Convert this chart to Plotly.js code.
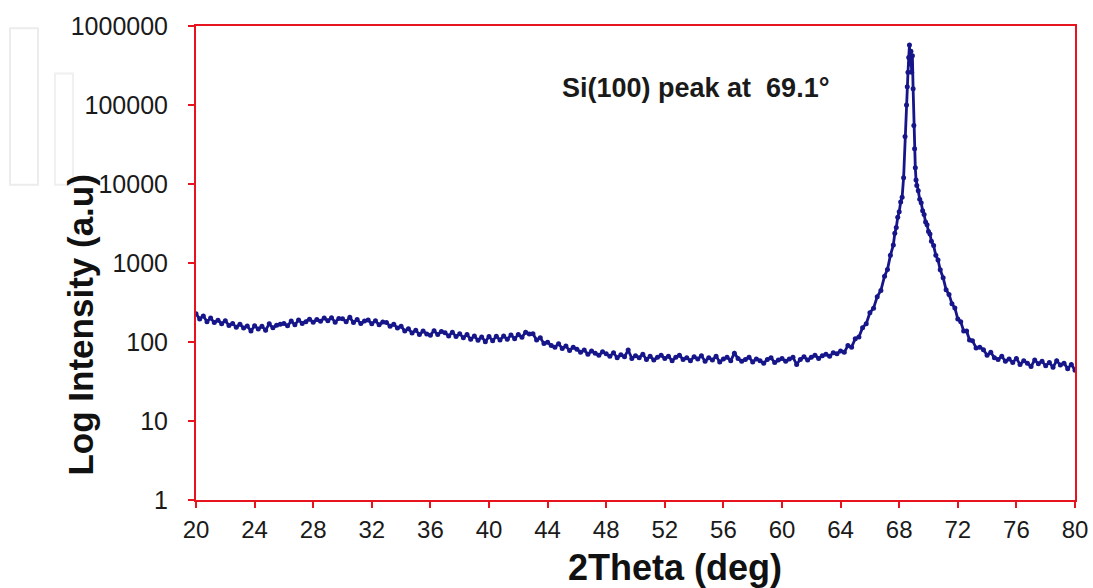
<!DOCTYPE html>
<html>
<head>
<meta charset="utf-8">
<script src="https://cdn.plot.ly/plotly-3.0.1.min.js"></script>
<style>html,body{margin:0;padding:0;background:#fff;}#chart{width:1093px;height:588px;}</style>
</head>
<body>
<div id="chart"></div>
<script>
// 2Theta (deg) sample positions
const bgTheta = [
20,20.25,20.5,20.75,21,21.25,21.5,21.75,22,22.25,22.5,22.75,23,23.25,23.5,23.75,
24,24.25,24.5,24.75,25,25.25,25.5,25.75,26,26.25,26.5,26.75,27,27.25,27.5,27.75,
28,28.25,28.5,28.75,29,29.25,29.5,29.75,30,30.25,30.5,30.75,31,31.25,31.5,31.75,
32,32.25,32.5,32.75,33,33.25,33.5,33.75,34,34.25,34.5,34.75,35,35.25,35.5,35.75,
36,36.25,36.5,36.75,37,37.25,37.5,37.75,38,38.25,38.5,38.75,39,39.25,39.5,39.75,
40,40.25,40.5,40.75,41,41.25,41.5,41.75,42,42.25,42.5,42.75,43,43.25,43.5,43.75,
44,44.25,44.5,44.75,45,45.25,45.5,45.75,46,46.25,46.5,46.75,47,47.25,47.5,47.75,
48,48.25,48.5,48.75,49,49.25,49.5,49.75,50,50.25,50.5,50.75,51,51.25,51.5,51.75,
52,52.25,52.5,52.75,53,53.25,53.5,53.75,54,54.25,54.5,54.75,55,55.25,55.5,55.75,
56,56.25,56.5,56.75,57,57.25,57.5,57.75,58,58.25,58.5,58.75,59,59.25,59.5,59.75,
60,60.25,60.5,60.75,61,61.25,61.5,61.75,62,62.25,62.5,62.75,63,63.25,63.5,63.75,64
];
const bgIntensity = [
228,196,214,181,201,176,189,170,186,162,171,154,168,150,159,138,
160,146,158,141,170,151,163,168,171,160,184,165,190,172,181,194,
178,192,183,201,186,203,178,199,197,181,205,176,192,171,184,190,
170,186,165,179,176,158,168,150,158,138,147,130,141,124,138,126,
122,139,124,136,131,119,133,117,127,113,124,108,119,105,116,101,
117,104,118,106,119,108,123,110,124,115,133,126,127,106,113,96,
99,90,86,95,83,89,78,86,81,74,79,70,77,72,68,75,
71,66,73,63,69,65,79,62,67,63,70,60,66,59,64,68,
62,66,58,64,68,60,63,58,65,61,67,57,63,59,66,56,
61,64,58,72,62,57,60,64,56,61,58,54,60,63,55,59,
62,57,61,64,52,60,65,59,64,68,62,67,70,66,73,71,77
];
const peakTheta = [
64.25,64.5,64.75,65,65.25,65.5,65.75,66,66.25,66.5,66.75,67,67.2,67.4,67.6,67.7,67.8,67.9,
68,68.1,68.2,68.3,68.4,68.5,68.55,68.6,68.65,68.7,68.75,68.8,68.85,68.9,68.95,69,69.05,69.1,
69.15,69.2,69.3,69.4,69.5,69.6,69.7,69.8,69.9,70,70.1,70.2,70.35,70.5,70.65,70.8,71,71.2,
71.4,71.6,71.8,72,72.2,72.4,72.6,72.8,73,73.25,73.5
];
const peakIntensity = [
74,90,86,110,116,152,170,235,268,375,450,680,830,1250,1690,2380,2820,3800,
4450,5900,6800,12000,40000,100000,170000,260000,400000,575000,330000,480000,260000,420000,160000,55000,28000,16000,
11200,9600,8200,6400,5800,4600,4100,3300,3050,2500,2330,1880,1660,1250,1090,820,650,460,
400,305,270,195,180,138,138,106,104,84,86
];
const tailTheta = [
73.75,74,74.25,74.5,74.75,75,75.25,75.5,75.75,76,76.25,76.5,76.75,77,77.25,77.5,77.75,
78,78.25,78.5,78.75,79,79.25,79.5,79.75,80
];
const tailIntensity = [
80,68,74,63,60,66,57,61,55,62,52,58,54,49,59,53,57,
50,55,48,58,51,54,46,52,44
];
const xTicks = [20,24,28,32,36,40,44,48,52,56,60,64,68,72,76,80];
const yTickVals = [1,10,100,1000,10000,100000,1000000];
const yTickText = ['1','10','100','1000','10000','100000','1000000'];
const peakLabel = 'Si(100) peak at  69.1°';
const xTitle = '2Theta (deg)';
const yTitle = 'Log Intensity (a.u)';

const theta = bgTheta.concat(peakTheta, tailTheta);
const intensity = bgIntensity.concat(peakIntensity, tailIntensity);

const FONT = 'Liberation Sans, Arial, Helvetica, sans-serif';
const RED = '#e5141e';
const NAVY = '#16168a';

const trace = {
  x: theta, y: intensity, type: 'scatter', mode: 'lines+markers',
  line: {color: NAVY, width: 2.8},
  marker: {color: NAVY, size: 5, symbol: 'circle'},
  hoverinfo: 'x+y', showlegend: false
};

const layout = {
  width: 1093, height: 588,
  margin: {l: 196, r: 18, t: 26, b: 88, pad: 0},
  paper_bgcolor: '#ffffff', plot_bgcolor: '#ffffff',
  font: {family: FONT, color: '#1a1a1a'},
  xaxis: {
    range: [20, 80], tickvals: xTicks, ticks: 'outside', ticklen: 6, tickwidth: 2, tickcolor: RED,
    showline: true, linecolor: RED, linewidth: 2, mirror: true, showgrid: false, zeroline: false,
    tickfont: {family: FONT, size: 24, color: '#1a1a1a'}, ticklabelstandoff: 1
  },
  yaxis: {
    type: 'log', range: [0, 6], tickvals: yTickVals, ticktext: yTickText,
    ticks: 'outside', ticklen: 6, tickwidth: 2, tickcolor: RED,
    showline: true, linecolor: RED, linewidth: 2, mirror: true, showgrid: false, zeroline: false,
    tickfont: {family: FONT, size: 25, color: '#1a1a1a'}, ticklabelstandoff: 15
  },
  annotations: [
    {text: '<b>' + peakLabel + '</b>', xref: 'paper', yref: 'paper', x: 0.568, y: 0.869,
     showarrow: false, font: {family: FONT, size: 27, color: '#1a1a1a'}, xanchor: 'center', yanchor: 'middle'},
    {text: '<b>' + xTitle + '</b>', xref: 'paper', yref: 'paper', x: 0.5455, y: -0.142,
     showarrow: false, font: {family: FONT, size: 36, color: '#111'}, xanchor: 'center', yanchor: 'middle'},
    {text: '<b>' + yTitle + '</b>', xref: 'paper', yref: 'paper', x: -0.1315, y: 0.369, textangle: -90,
     showarrow: false, font: {family: FONT, size: 35, color: '#111'}, xanchor: 'center', yanchor: 'middle'}
  ],
  shapes: [
    {type: 'rect', xref: 'paper', yref: 'paper', x0: -0.2116, x1: -0.1797, y0: 0.665, y1: 0.995,
     line: {color: '#ececec', width: 2}, fillcolor: 'rgba(0,0,0,0)', layer: 'below'},
    {type: 'rect', xref: 'paper', yref: 'paper', x0: -0.1604, x1: -0.14, y0: 0.665, y1: 0.90,
     line: {color: '#f0f0f0', width: 2}, fillcolor: 'rgba(0,0,0,0)', layer: 'below'}
  ]
};

Plotly.newPlot('chart', [trace], layout, {displayModeBar: false, staticPlot: true});
</script>
</body>
</html>
